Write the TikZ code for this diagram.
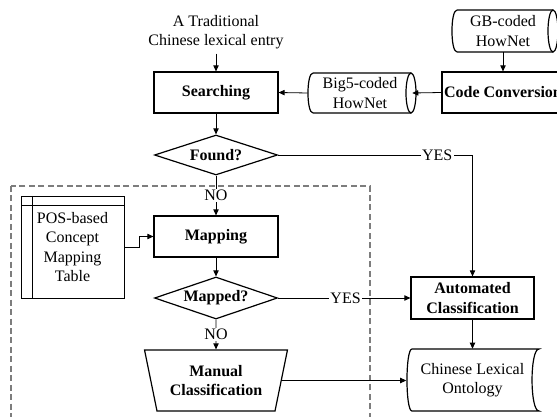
\documentclass[tikz,border=0pt]{standalone}
\usepackage{fontspec}
\setmainfont{Liberation Serif}
\usetikzlibrary{shapes.geometric,arrows.meta}
\definecolor{dgray}{RGB}{125,125,125}
\begin{document}
\begin{tikzpicture}[x=0.75pt,y=-0.75pt,
  font=\fontsize{12}{14.5}\selectfont,
  every node/.style={align=center},
  sz/.style 2 args={minimum width=#1*0.75pt, minimum height=#2*0.75pt},
  shp/.style={line width=0.9pt},
  thin shp/.style={line width=0.65pt},
  box/.style={draw, shp, rectangle, inner sep=0pt, font=\fontsize{12}{14.5}\selectfont\bfseries},
  dia/.style={draw, shp, diamond, aspect=3, inner sep=0pt, font=\fontsize{12}{14.5}\selectfont\bfseries},
  arr/.style={line width=0.6pt, -{Triangle[length=4.5pt,width=4pt]}},
  lab/.style={fill=white, inner sep=1pt},
  dashbox/.style={draw=dgray, line width=0.8pt, dash pattern=on 4.5pt off 2.6pt},
]
\useasboundingbox (0,0) rectangle (557,417);
\clip (0,0) rectangle (557,417);

% dashed region
\draw[dashbox] (11,186) rectangle (370,440);

% top entry text
\node (entry) at (216,32) {A Traditional\\Chinese lexical entry};
\node[box, sz={124}{41}] (search) at (216,92.5) {Searching};

% Big5 cylinder
\node[sz={104}{40}, inner sep=0pt] (big5) at (360,93) {Big5-coded\\HowNet};
\draw[shp] (313,73) -- (411,73) (313,113) -- (411,113)
  (313,73) .. controls (306.3,73) and (306.3,113) .. (313,113);
\draw[shp] (411,93) ellipse [x radius=5, y radius=20];

% Code conversion
\node[box, sz={122}{41}] (code) at (503,92.5) {Code Conversion};

% GB cylinder
\node[sz={101}{42}, inner sep=0pt] (gb) at (503,31) {GB-coded\\HowNet};
\draw[shp] (457,10) -- (553,10) (457,52) -- (553,52)
  (457,10) .. controls (450.3,10) and (450.3,52) .. (457,52);
\draw[shp] (553,31) ellipse [x radius=5, y radius=21];

% decisions and boxes
\node[dia, sz={123}{40}] (found) at (216,155) {Found?};
\node[box, sz={124}{41}] (map) at (216,236.5) {Mapping};
\node[dia, sz={123}{42}] (mapped) at (216,298) {Mapped?};
\node[draw, shp, trapezium, shape border rotate=180, trapezium left angle=72.3,
  trapezium right angle=72.3, trapezium stretches=true, sz={143}{61}, inner sep=0pt,
  font=\fontsize{12}{14.5}\selectfont\bfseries] (manual) at (216,380.5) {Manual\\Classification};
\node[box, sz={123}{42}] (auto) at (472.5,298) {Automated\\Classification};

% mapping table
\node[draw, thin shp, sz={103}{102}, inner sep=0pt] (table) at (72.5,247) {POS-based\\Concept\\Mapping\\Table};
\draw[thin shp] (32,196) -- (32,298) (21,205) -- (124,205);

% ontology (stored data)
\node[sz={132}{62}, inner sep=0pt] (ont) at (472.5,380) {Chinese Lexical\\Ontology};
\draw[shp] (412,349) -- (539,349) .. controls (529.7,349) and (529.7,411) .. (539,411)
  -- (412,411) .. controls (405.3,411) and (405.3,349) .. (412,349) -- cycle;

% connectors
\draw[arr] (entry.south) -- (search.north);
\draw[arr] (big5.west) -- (search.east);
\draw[arr] (code.west) -- (big5.east);
\draw[arr] (gb.south) -- (code.north);
\draw[arr] (search.south) -- (found.north);
\draw[arr] (found.south) -- node[lab]{NO} (map.north);
\draw[arr] (found.east) -- node[lab, pos=0.818]{YES} (found.east -| auto.north) -- (auto.north);
\draw[arr] (table.east) -- ++(15,0) |- (map.west);
\draw[arr] (map.south) -- (mapped.north);
\draw[arr] (mapped.east) -- node[lab, pos=0.51]{YES} (auto.west);
\draw[arr] (mapped.south) -- node[lab]{NO} (manual.north);
\draw[arr] (manual.east) -- (manual.east -| ont.west);
\draw[arr] (auto.south) -- (ont.north);
\end{tikzpicture}
\end{document}
